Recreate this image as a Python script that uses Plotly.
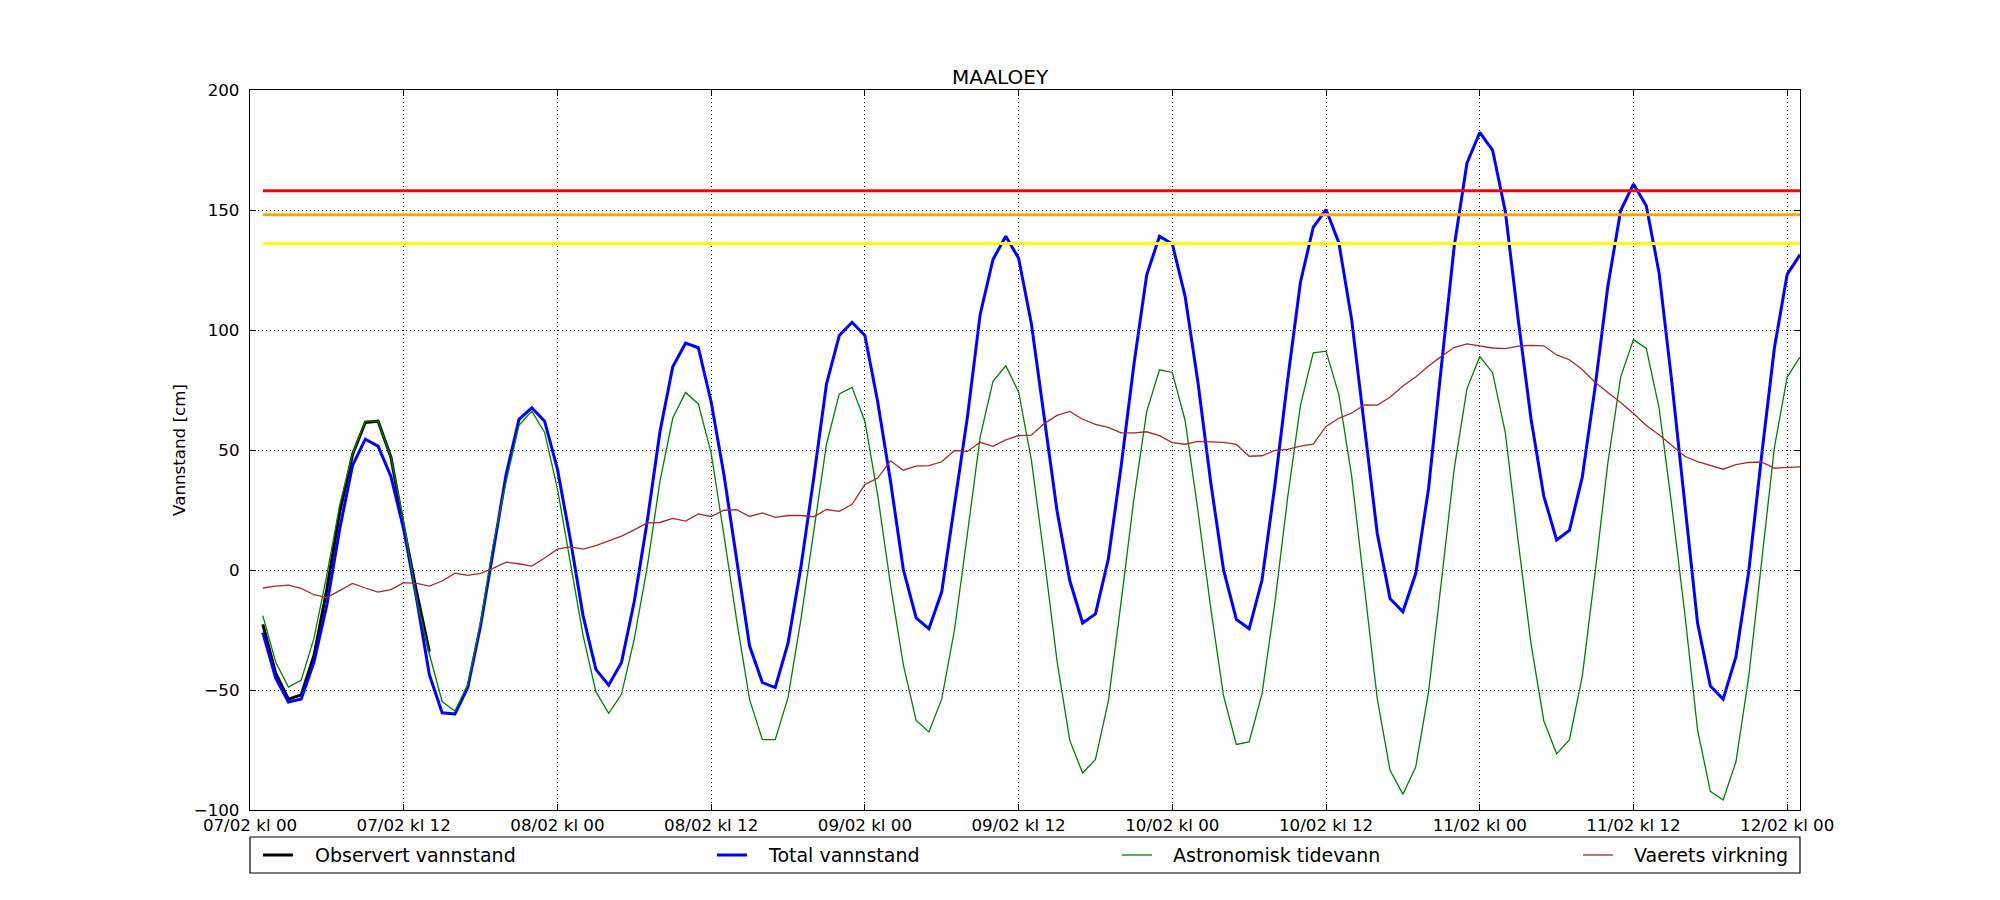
import pandas as pd
import plotly.graph_objects as go

# hourly values, 07/02 kl 01 -> 12/02 kl 01
astro = [
    -19, -38.3, -48.8, -45.9, -28.3, -2, 27, 48.5, 62, 62,
    47, 20, -12, -35, -54.8, -58.8, -47.6, -21.8, 11, 37,
    60.3, 66.2, 57.3, 33.8, 3.3, -27.2, -50.7, -59.7, -51.8, -28.7,
    1, 36.8, 63.2, 74, 69.2, 48.7, 14.4, -21.3, -54, -70.7,
    -70.7, -53.2, -20.8, 16.6, 52.3, 73.4, 76.1, 62, 31.2, -6.2,
    -39.4, -62.7, -67.5, -53.7, -24.8, 14.9, 55.5, 78.6, 85.1, 74.2,
    45.8, 5.2, -38, -71.1, -84.6, -78.9, -54.9, -13.5, 29.5, 66,
    83.4, 82.3, 62.3, 24.7, -15.9, -52.4, -72.7, -71.6, -51.6, -14,
    30, 68.5, 90.5, 91.2, 73.1, 39.1, -6.8, -53.6, -83.5, -93.4,
    -82.1, -50.9, -5, 41.9, 75.5, 89, 82.2, 57.1, 12, -30.7,
    -62.8, -76.6, -70.7, -44.4, -1.3, 44.6, 80.4, 96, 92.3, 67.6,
    26.3, -17.8, -66.5, -92.2, -95.8, -79.9, -44.4, 4.2, 51, 80.4,
    88.7,
]

weather = [
    -7.5, -6.7, -6.3, -7.7, -10.3, -11.5, -8.6, -5.6, -7.5, -9.2,
    -8.2, -5.3, -5.6, -6.7, -4.6, -1.3, -2.2, -1.4, 0.8, 3.3,
    2.6, 1.6, 5, 8.7, 9.6, 8.7, 10.2, 12, 14.1, 16.7,
    19.6, 19.8, 21.5, 20.4, 23.4, 22.3, 24.9, 25.1, 22.3, 23.8,
    21.9, 22.7, 22.7, 22.2, 25.2, 24.4, 27.4, 35.6, 38.3, 45.5,
    41.6, 43.3, 43.5, 45.1, 49.8, 49.4, 53.2, 51.5, 54.2, 56,
    56.2, 61, 64.4, 66.1, 62.8, 60.7, 59.4, 57.1, 57.1, 57.6,
    56, 53.1, 52.4, 53.6, 53.4, 53.2, 52.3, 47.4, 47.6, 49.8,
    50.3, 51.6, 52.4, 59.8, 63.2, 65.4, 68.8, 68.7, 72, 76.7,
    80.4, 85, 89, 92.7, 94.2, 93.4, 92.5, 92.2, 93.3, 93.6,
    93.4, 89.6, 87.6, 83.5, 78.2, 74, 69.8, 65.2, 60.2, 56.4,
    52, 47.4, 45.2, 43.7, 42, 43.9, 44.8, 45, 42.4, 42.8,
    43,
]

total = [
    -26.1, -45, -55, -53.7, -38.3, -14.6, 17, 43.5, 54.5, 51.6,
    39, 16.9, -11.8, -43.6, -59.5, -60, -49, -23.2, 8.3, 40,
    62.8, 67.6, 62, 42, 13, -19, -41.4, -48, -38.5, -13,
    20, 57.5, 84.7, 94.5, 92.6, 70, 39.7, 4, -31.7, -46.9,
    -49, -30.5, 1, 38, 77.4, 97.7, 103.2, 97.7, 70.1, 37,
    0.3, -20, -24.5, -9.1, 26.3, 63.6, 106.5, 129.4, 139.1, 129.9,
    102.6, 64, 24.7, -4.5, -22.1, -18.3, 4.4, 43, 85.5, 122.9,
    139.1, 135.9, 114, 78.2, 36.5, 0, -20.6, -24.5, -4.3, 35,
    79, 119.8, 142.8, 150.2, 136.4, 104.3, 61, 15.2, -12, -17.4,
    -1.5, 33.8, 84.5, 134.6, 169.5, 182.3, 175, 149.3, 104.5, 63,
    30.8, 12.5, 16.5, 38.6, 76, 118.2, 149.8, 160.8, 151.8, 123.8,
    78, 28, -22, -48.3, -53.8, -36.1, -0.5, 47.5, 92.5, 123.2,
    131.4,
]

# observed only for the first hours
observed = [-22.7, -43, -53.8, -52, -35.5, -8, 24, 48, 61.5, 62, 47, 18, -9, -34]

# warning levels
levels = [158, 148, 136]
level_colors = ["#ff0000", "#ffa500", "#ffff00"]

names = ["Observert vannstand", "Total vannstand", "Astronomisk tidevann", "Vaerets virkning"]
colors = ["black", "#0000ff", "#008000", "#a52a2a"]
widths = [3, 3, 1.3, 1.3]

times = pd.date_range("2016-02-07 01:00", periods=len(total), freq="h")

fig = go.Figure()

series = [(times[:len(observed)], observed), (times, total), (times, astro), (times, weather)]
for (x, y), name, col, w in zip(series, names, colors, widths):
    fig.add_trace(go.Scatter(x=x, y=y, mode="lines", name=name,
                             line=dict(color=col, width=w), showlegend=False))

# horizontal levels drawn on top
for lev, col in zip(levels, level_colors):
    fig.add_trace(go.Scatter(x=[times[0], times[-1]], y=[lev, lev], mode="lines",
                             line=dict(color=col, width=3), showlegend=False))

font = "DejaVu Sans"

# legend box below the axes, matplotlib style (expanded over full width)
def px_x(p):
    return (p - 250) / 1550

def px_y(p):
    return (810 - p) / 720

shapes = [dict(type="rect", xref="paper", yref="paper", x0=0, x1=1,
               y0=px_y(873), y1=px_y(837),
               line=dict(color="black", width=1.2), fillcolor="rgba(0,0,0,0)")]
annotations = []
leg_line_x = [263, 717, 1122, 1583]
leg_text_x = [313, 766, 1171, 1632]
for name, col, w, lx, tx in zip(names, colors, widths, leg_line_x, leg_text_x):
    shapes.append(dict(type="line", xref="paper", yref="paper",
                       x0=px_x(lx), x1=px_x(lx + 30), y0=px_y(855), y1=px_y(855),
                       line=dict(color=col, width=w)))
    annotations.append(dict(text=name, xref="paper", yref="paper", x=px_x(tx), y=px_y(855),
                            xanchor="left", yanchor="middle", showarrow=False,
                            font=dict(family=font, size=19, color="black")))

fig.update_layout(
    width=2000, height=900,
    margin=dict(l=250, r=200, t=90, b=90),
    paper_bgcolor="white", plot_bgcolor="white",
    font=dict(family=font, color="black"),
    title=dict(text="MAALOEY", x=0.5, xanchor="center", y=1 - 77 / 900, yanchor="middle",
               font=dict(family=font, size=20, color="black")),
    showlegend=False,
    shapes=shapes,
    annotations=annotations,
)

fig.update_xaxes(
    type="date",
    range=[pd.Timestamp("2016-02-07 00:00"), times[-1]],
    tick0="2016-02-07 00:00", dtick=12 * 3600 * 1000,
    tickformat="%d/%m kl %H",
    showgrid=True, gridcolor="black", griddash="1px,3px", gridwidth=1,
    showline=True, linecolor="black", linewidth=1.3, mirror="ticks",
    ticks="inside", ticklen=6, tickcolor="black",
    tickfont=dict(family=font, size=16.7, color="black"),
    zeroline=False,
)
fig.update_yaxes(
    range=[-100, 200], dtick=50, tick0=0,
    showgrid=True, gridcolor="black", griddash="1px,3px", gridwidth=1,
    showline=True, linecolor="black", linewidth=1.3, mirror="ticks",
    ticks="inside", ticklen=6, tickcolor="black",
    ticklabelstandoff=6,
    tickfont=dict(family=font, size=16.7, color="black"),
    title=dict(text="Vannstand [cm]", font=dict(family=font, size=16.7, color="black"),
               standoff=3),
    zeroline=False,
)

fig.write_html("out.html", config={"displayModeBar": False},
               post_script="document.body.style.margin='0';")
